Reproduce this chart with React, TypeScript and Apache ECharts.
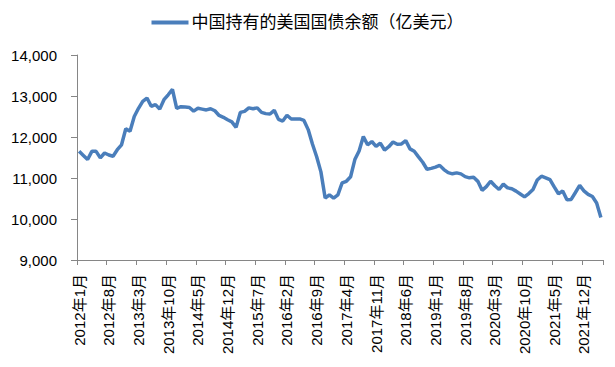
import React, { useEffect, useRef } from "react";
import * as echarts from "echarts";

const seriesName = "中国持有的美国国债余额（亿美元）";

const startYear = 2012;
const endYear = 2022;
const endMonth = 4;

const values2012 = [11650, 11550, 11450, 11650, 11650, 11490, 11610, 11560, 11530, 11690, 11810, 12200];
const values2013 = [12140, 12500, 12700, 12870, 12950, 12750, 12790, 12680, 12910, 13030, 13160, 12700];
const values2014 = [12740, 12730, 12720, 12630, 12700, 12680, 12660, 12690, 12640, 12525, 12480, 12420];
const values2015 = [12370, 12235, 12600, 12625, 12710, 12690, 12710, 12600, 12570, 12560, 12650, 12430];
const values2016 = [12390, 12530, 12440, 12440, 12440, 12405, 12180, 11830, 11520, 11150, 10510, 10590];
const values2017 = [10510, 10590, 10880, 10920, 11030, 11450, 11660, 12010, 11810, 11890, 11770, 11850];
const values2018 = [11682, 11763, 11878, 11821, 11831, 11912, 11710, 11651, 11514, 11384, 11214, 11235];
const values2019 = [11266, 11308, 11205, 11130, 11102, 11125, 11100, 11033, 11004, 11017, 10918, 10699];
const values2020 = [10790, 10920, 10810, 10720, 10850, 10760, 10740, 10680, 10610, 10540, 10620, 10720];
const values2021 = [10950, 11044, 11004, 10958, 10783, 10616, 10681, 10471, 10478, 10646, 10819, 10688];
const values2022 = [10600, 10548, 10391, 10039];

const seriesValues = [
  ...values2012, ...values2013, ...values2014, ...values2015, ...values2016,
  ...values2017, ...values2018, ...values2019, ...values2020, ...values2021, ...values2022,
];

const categories: string[] = [];
for (let y = startYear; y <= endYear; y++) {
  for (let m = 1; m <= 12; m++) {
    if (y === endYear && m > endMonth) break;
    categories.push(`${y}年${m}月`);
  }
}

const yMin = 9000;
const yMax = 14000;
const yStep = 1000;

const FONT = '"Liberation Sans", "Noto Sans CJK SC", sans-serif';
const LINE_COLOR = "#4A7EBB";
const AXIS_COLOR = "#868686";

export default function App() {
  const ref = useRef<HTMLDivElement>(null);
  useEffect(() => {
    if (!ref.current) return;
    const chart = echarts.init(ref.current, undefined, { renderer: "svg" });
    chart.setOption({
      animation: false,
      grid: { left: 77, right: 12, top: 55, bottom: 107, containLabel: false },
      legend: {
        top: 9,
        left: "center",
        icon: "rect",
        itemWidth: 37,
        itemHeight: 4,
        textStyle: { fontSize: 17, color: "#000", fontFamily: FONT, padding: [0, 0, 0, -2] },
        data: [seriesName],
      },
      xAxis: {
        type: "category",
        data: categories,
        boundaryGap: true,
        axisLine: { lineStyle: { color: AXIS_COLOR, width: 1 } },
        axisTick: { show: true, interval: 6, length: 5, lineStyle: { color: AXIS_COLOR } },
        axisLabel: {
          interval: 6,
          rotate: 90,
          fontSize: 15,
          color: "#000",
          fontFamily: FONT,
          margin: 14,
        },
      },
      yAxis: {
        type: "value",
        min: yMin,
        max: yMax,
        interval: yStep,
        axisLine: { show: true, lineStyle: { color: AXIS_COLOR, width: 1 } },
        axisTick: { show: true, length: 6, lineStyle: { color: AXIS_COLOR } },
        splitLine: { show: false },
        axisLabel: {
          fontSize: 15,
          color: "#000",
          fontFamily: FONT,
          margin: 20,
          formatter: (v: number) => v.toLocaleString("en-US"),
        },
      },
      series: [
        {
          name: seriesName,
          type: "line",
          data: seriesValues,
          symbol: "none",
          lineStyle: { width: 3.5, color: LINE_COLOR },
          itemStyle: { color: LINE_COLOR },
        },
      ],
    });
    return () => chart.dispose();
  }, []);
  return (
    <div
      ref={ref}
      style={{ position: "fixed", left: 0, top: 0, width: 615, height: 367, background: "#fff" }}
    />
  );
}
